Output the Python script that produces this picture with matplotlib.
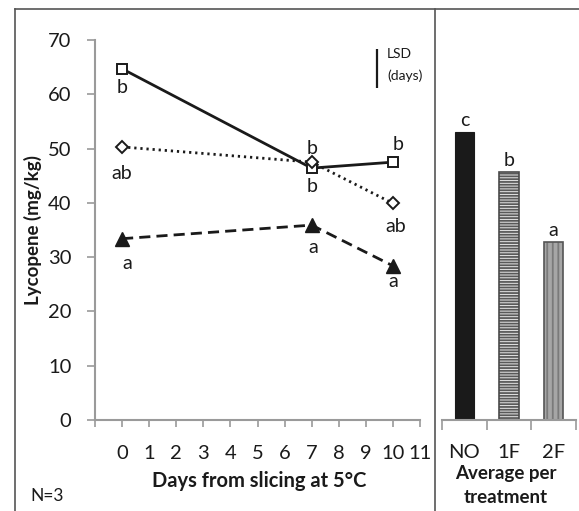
import matplotlib
matplotlib.use("Agg")
import matplotlib.pyplot as plt
from matplotlib.lines import Line2D

plt.rcParams['font.family'] = ['Lato', 'DejaVu Sans']
plt.rcParams['hatch.linewidth'] = 1.3

days = [0, 7, 10]
no_vals = [64.7, 46.4, 47.5]      # squares, solid
f1_vals = [50.3, 47.5, 39.9]      # diamonds, dotted
f2_vals = [33.4, 35.9, 28.4]      # triangles, dashed

bar_cats = ["NO", "1F", "2F"]
bar_vals = [53.0, 45.7, 32.7]
bar_letters = ["c", "b", "a"]

xtick_vals = list(range(-1, 12))
xtick_labels = [""] + [str(i) for i in range(0, 12)]

# letter annotations: (x, y, text)
letters = [
    (0.0, 61.2, "b"), (0.0, 45.5, "ab"), (0.2, 28.9, "a"),
    (7.0, 50.0, "b"), (7.0, 43.0, "b"), (7.07, 31.8, "a"),
    (10.2, 50.8, "b"), (10.1, 35.7, "ab"), (10.0, 25.5, "a"),
]

W, H = 579, 511
fig = plt.figure(figsize=(W / 100, H / 100), dpi=100)

def fx(px):
    return px / W

def fy(py):
    return 1 - py / H

axcol = '#9a9a9a'
ink = '#1a1a1a'

ax = fig.add_axes([fx(95), fy(420), fx(420) - fx(95), fy(40) - fy(420)])
ax.plot(days, no_vals, color=ink, lw=2.0, ls='-', marker='s', ms=7.5,
        mfc='white', mec=ink, mew=1.4, zorder=3)
ax.plot(days, f1_vals, color=ink, lw=2.0, ls=(0, (0.8, 1.4)), marker='D', ms=6.5,
        mfc='white', mec=ink, mew=1.4, zorder=3)
ax.plot(days, f2_vals, color=ink, lw=2.0, ls=(0, (4, 2.2)), marker='^', ms=9.5,
        mfc=ink, mec=ink, zorder=3)

for x, y, t in letters:
    ax.text(x, y, t, ha='center', va='center', fontsize=14, color=ink)

# LSD marker
ax.plot([9.41, 9.41], [61.1, 68.3], color=ink, lw=1.6, solid_capstyle='butt')
ax.text(9.78, 67.5, "LSD", ha='left', va='center', fontsize=10, color=ink)
ax.text(9.78, 63.4, "(days)", ha='left', va='center', fontsize=10, color=ink)

ax.set_xlim(-1, 11)
ax.set_ylim(0, 70)
ax.set_xticks(xtick_vals)
ax.set_xticklabels(xtick_labels)
ax.set_yticks(range(0, 71, 10))
for s in ['top', 'right']:
    ax.spines[s].set_visible(False)
for s in ['left', 'bottom']:
    ax.spines[s].set_color(axcol)
    ax.spines[s].set_linewidth(1.5)
ax.tick_params(axis='x', direction='out', length=5, width=1.2, color=axcol,
               labelsize=14.5, labelcolor=ink, pad=13)
ax.tick_params(axis='y', direction='out', length=6, width=1.2, color=axcol,
               labelsize=14.5, labelcolor=ink, pad=11)

# Bar panel
bx = fig.add_axes([fx(442), fy(420), fx(576) - fx(442), fy(40) - fy(420)])
xs = list(range(len(bar_cats)))
bw = 0.43
bx.bar(xs[0], bar_vals[0], width=bw, color=ink, edgecolor=ink, lw=0.8)
bx.bar(xs[1], bar_vals[1], width=bw, color='#e8e8e8', edgecolor='#5a5a5a',
       hatch='------', lw=0)
bx.bar(xs[1], bar_vals[1], width=bw, fill=False, edgecolor='#4a4a4a', lw=1.2)
bx.bar(xs[2], bar_vals[2], width=bw, color='#a6a6a6', edgecolor='#7a7a7a',
       hatch='|||', lw=0)
bx.bar(xs[2], bar_vals[2], width=bw, fill=False, edgecolor='#555555', lw=1.2)
for x, v, t in zip(xs, bar_vals, bar_letters):
    bx.text(x, v + 0.6, t, ha='center', va='bottom', fontsize=14, color=ink)
bx.set_xlim(-0.5, 2.5)
bx.set_ylim(0, 70)
bx.set_yticks([])
bx.set_xticks(xs)
bx.set_xticklabels(bar_cats)
bx.set_xticks([-0.5, 0.5, 1.5, 2.5], minor=True)
for s in ['top', 'right', 'left']:
    bx.spines[s].set_visible(False)
bx.spines['bottom'].set_color(axcol)
bx.spines['bottom'].set_linewidth(1.5)
bx.tick_params(axis='x', which='major', length=0, labelsize=14.5, labelcolor=ink, pad=17)
bx.tick_params(axis='x', which='minor', direction='out', length=7, width=1.2, color=axcol)

# Labels
fig.text(fx(33), fy(230), "Lycopene (mg/kg)", rotation=90, ha='center', va='center',
         fontsize=13.5, fontweight='bold', color=ink)
fig.text(fx(259), fy(481), "Days from slicing at 5°C", ha='center', va='center',
         fontsize=14.5, fontweight='bold', color=ink)
fig.text(fx(506), fy(474), "Average per", ha='center', va='center',
         fontsize=13.5, fontweight='bold', color=ink)
fig.text(fx(506), fy(497), "treatment", ha='center', va='center',
         fontsize=13.5, fontweight='bold', color=ink)
fig.text(fx(30), fy(496), "N=3", ha='left', va='center', fontsize=12.5, color=ink)

# Frame lines
fcol = '#555555'
fig.add_artist(Line2D([fx(15), fx(15)], [fy(9.5), 0], transform=fig.transFigure, color=fcol, lw=1.2))
fig.add_artist(Line2D([fx(15), 1], [fy(9.5), fy(9.5)], transform=fig.transFigure, color=fcol, lw=1.2))
fig.add_artist(Line2D([fx(435), fx(435)], [fy(9.5), 0], transform=fig.transFigure, color=fcol, lw=1.2))

fig.savefig("out.png", dpi=100)
